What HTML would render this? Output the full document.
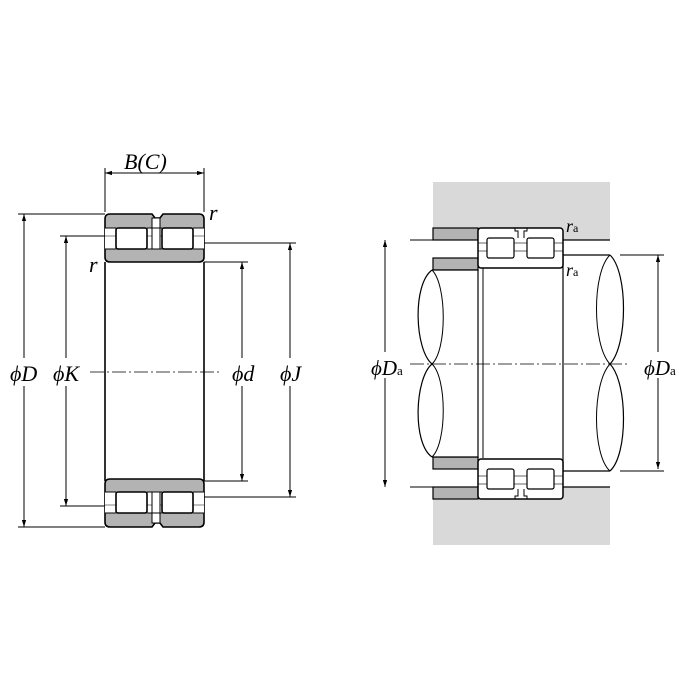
<!DOCTYPE html>
<html><head><style>body{margin:0;background:#fff}svg{display:block}text{font-family:"Liberation Serif",serif;font-style:italic;fill:#000}</style></head><body>
<svg width="700" height="700" viewBox="0 0 700 700" xmlns="http://www.w3.org/2000/svg" stroke="#000" fill="none" stroke-width="1">
<defs>
<marker id="a" viewBox="0 0 10 10" refX="10" refY="5" markerWidth="7" markerHeight="7" orient="auto-start-reverse"><path d="M0,2 L10,5 L0,8" fill="#000" stroke="none"/></marker>
<g id="brgL">
<path d="M110,214 H152 L155,218 H160 L163,214 H199 Q204,214 204,219 V257 Q204,262 199,262 H110 Q105,262 105,257 V219 Q105,214 110,214 Z" fill="#b3b3b3" stroke-width="1.6"/>
<rect x="105" y="228" width="99" height="21" fill="#fff" stroke="none"/>
<line x1="105" y1="236" x2="204" y2="236" stroke-width="0.5"/>
<rect x="152" y="218" width="8" height="31" fill="#fff" stroke-width="1"/>
<rect x="116" y="228" width="31" height="21" rx="2" fill="#fff" stroke-width="1.6"/>
<rect x="162" y="228" width="31" height="21" rx="2" fill="#fff" stroke-width="1.6"/>
<line x1="105" y1="228" x2="116" y2="228"/><line x1="105" y1="249" x2="116" y2="249"/>
<line x1="193" y1="228" x2="204" y2="228"/><line x1="193" y1="249" x2="204" y2="249"/>
<line x1="147" y1="228" x2="162" y2="228"/><line x1="147" y1="249" x2="162" y2="249"/>
</g>
</defs>
<!-- left bearing -->
<use href="#brgL"/>
<use href="#brgL" transform="translate(0,741) scale(1,-1)"/>
<line x1="105" y1="262" x2="105" y2="481" stroke-width="1.6"/>
<line x1="204" y1="262" x2="204" y2="481" stroke-width="1.6"/>
<line x1="90" y1="372" x2="220" y2="372" stroke-dasharray="14,3,2,3" stroke-width="0.7"/>
<!-- ext lines -->
<line x1="105" y1="168" x2="105" y2="212"/><line x1="204" y1="168" x2="204" y2="212"/>
<line x1="105" y1="173" x2="204" y2="173" marker-start="url(#a)" marker-end="url(#a)"/>
<line x1="18" y1="214" x2="105" y2="214"/><line x1="18" y1="527" x2="105" y2="527"/>
<line x1="24" y1="214" x2="24" y2="527" marker-start="url(#a)" marker-end="url(#a)"/>
<line x1="60" y1="236" x2="105" y2="236"/><line x1="60" y1="506" x2="105" y2="506"/>
<line x1="66" y1="236" x2="66" y2="506" marker-start="url(#a)" marker-end="url(#a)"/>
<line x1="204" y1="262" x2="248" y2="262"/><line x1="204" y1="481" x2="248" y2="481"/>
<line x1="242" y1="262" x2="242" y2="481" marker-start="url(#a)" marker-end="url(#a)"/>
<line x1="204" y1="243" x2="296" y2="243"/><line x1="204" y1="497" x2="296" y2="497"/>
<line x1="290" y1="243" x2="290" y2="497" marker-start="url(#a)" marker-end="url(#a)"/>
<g stroke="none" font-size="22">
<rect x="8" y="358" width="40" height="28" fill="#fff"/><text x="10" y="381">ϕD</text>
<rect x="52" y="358" width="38" height="28" fill="#fff"/><text x="53" y="381">ϕK</text>
<rect x="230" y="358" width="36" height="28" fill="#fff"/><text x="232" y="381">ϕd</text>
<rect x="278" y="358" width="36" height="28" fill="#fff"/><text x="280" y="381">ϕJ</text>
<text x="124" y="169">B(C)</text>
<text x="209" y="220">r</text>
<text x="89" y="272">r</text>
</g>
<!-- right: housing -->
<rect x="433" y="182" width="177" height="363" fill="#d9d9d9" stroke="none"/>
<rect x="433" y="240" width="177" height="247" fill="#fff" stroke="none"/>
<line x1="563" y1="240" x2="610" y2="240" stroke-width="1.2"/>
<line x1="563" y1="487" x2="610" y2="487" stroke-width="1.2"/>
<rect x="433" y="228" width="45" height="12" fill="#b3b3b3" stroke-width="1.2"/>
<rect x="433" y="258" width="45" height="12" fill="#b3b3b3" stroke-width="1.2"/>
<rect x="433" y="457" width="45" height="12" fill="#b3b3b3" stroke-width="1.2"/>
<rect x="433" y="487" width="45" height="12" fill="#b3b3b3" stroke-width="1.2"/>
<line x1="410" y1="240" x2="433" y2="240"/><line x1="410" y1="487" x2="433" y2="487"/>
<!-- shafts -->
<path d="M432,270 H478 V457 H432" stroke-width="1.2" fill="#fff"/>
<path d="M432,270 C412,285 415,350 432,364 C415,378 412,443 432,457" stroke-width="1.2"/>
<path d="M432,270 C447,285 447,350 432,364 C447,378 447,443 432,457" stroke-width="1"/>
<line x1="483" y1="268" x2="483" y2="458" stroke-width="1"/>
<path d="M563,255 H610 M563,471 H610" stroke-width="1.2"/>
<path d="M610,255 C592,272 592,345 610,364 C592,383 592,455 610,471" stroke-width="1"/>
<path d="M610,255 C628,272 628,345 610,364 C628,383 628,455 610,471" stroke-width="1.2"/>
<line x1="563" y1="255" x2="563" y2="471" stroke-width="1.2"/>
<!-- right bearing top -->
<g id="bR">
<rect x="478" y="228" width="85" height="40" rx="3" fill="#fff" stroke-width="1.5"/>
<rect x="478" y="243" width="85" height="8" fill="none" stroke-width="0.6"/>
<rect x="487" y="238" width="27" height="20" rx="2" fill="#fff" stroke-width="1.2"/>
<rect x="527" y="238" width="27" height="20" rx="2" fill="#fff" stroke-width="1.2"/>
<path d="M515,228 V231 H518 V238 M524,238 V231 H527 V228" stroke-width="1"/>
</g>
<use href="#bR" transform="translate(0,727) scale(1,-1)"/>
<line x1="410" y1="364" x2="630" y2="364" stroke-dasharray="14,3,2,3" stroke-width="0.7"/>
<line x1="385" y1="240" x2="385" y2="487" marker-start="url(#a)" marker-end="url(#a)"/>
<line x1="620" y1="255" x2="664" y2="255"/><line x1="620" y1="471" x2="664" y2="471"/>
<line x1="658" y1="255" x2="658" y2="469" marker-start="url(#a)" marker-end="url(#a)"/>
<g stroke="none">
<rect x="370" y="352" width="38" height="26" fill="#fff"/><text x="371" y="375" font-size="21">ϕD<tspan font-size="13" font-style="normal" dy="0">a</tspan></text>
<rect x="643" y="352" width="40" height="26" fill="#fff"/><text x="644" y="375" font-size="21">ϕD<tspan font-size="13" font-style="normal">a</tspan></text>
<text x="566" y="232" font-size="18">r<tspan font-size="12" font-style="normal">a</tspan></text>
<text x="566" y="276" font-size="18">r<tspan font-size="12" font-style="normal">a</tspan></text>
</g>
</svg>
</body></html>
